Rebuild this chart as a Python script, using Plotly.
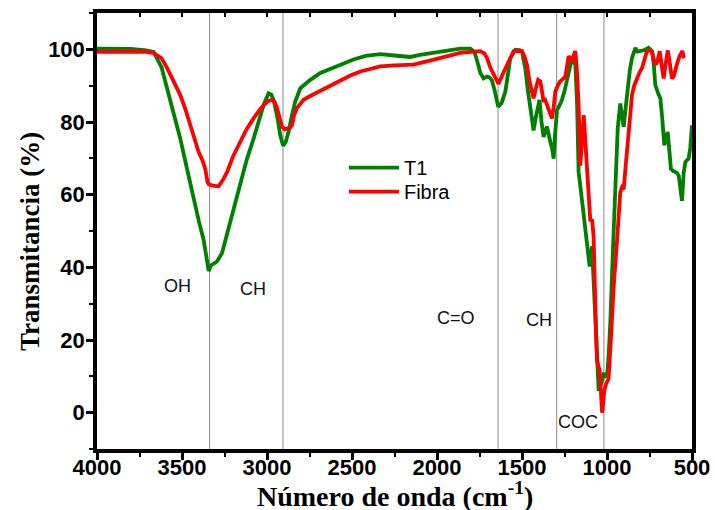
import plotly.graph_objects as go

# FTIR transmittance spectra (wavenumber in cm^-1, transmittance in %)
t1_wavenumber = [4000, 3900, 3800, 3720, 3667, 3620, 3588, 3550, 3510, 3470, 3432, 3400, 3373, 3355, 3343,
                 3330, 3310, 3294, 3265, 3245, 3226, 3190, 3157, 3120, 3079, 3050, 3020, 2991, 2975, 2961,
                 2940, 2922, 2905, 2890, 2873, 2855, 2834, 2804, 2775, 2745, 2686, 2620, 2569, 2491, 2420,
                 2334, 2250, 2157, 2100, 2039, 1950, 1863, 1804, 1780, 1765, 1745, 1726, 1706, 1690, 1676,
                 1660, 1640, 1620, 1598, 1580, 1569, 1539, 1515, 1500, 1481, 1465, 1451, 1440, 1432, 1420,
                 1412, 1397, 1385, 1373, 1353, 1343, 1333, 1322, 1314, 1305, 1294, 1280, 1265, 1250, 1235,
                 1220, 1206, 1196, 1186, 1176, 1167, 1157, 1140, 1118, 1102, 1088, 1078, 1069, 1058, 1049,
                 1040, 1029, 1020, 1010, 1000, 990, 980, 965, 951, 937, 922, 910, 902, 890, 878,
                 865, 853, 833, 820, 804, 780, 755, 740, 735, 725, 716, 700, 686, 675, 663,
                 653, 643, 633, 624, 610, 598, 588, 578, 568, 559, 549, 539, 520, 510, 500]
t1_transmittance = [100.2, 100.2, 100.1, 99.8, 99.3, 95.0, 89.3, 82.5, 75.4, 67.0, 58.8, 52.5, 47.6, 43.0, 39.0,
                    40.5, 41.3, 41.6, 43.9, 47.5, 51.3, 57.5, 63.4, 69.5, 75.4, 80.0, 84.7, 87.9, 87.5, 86.1,
                    81.5, 76.3, 73.5, 74.5, 77.3, 81.5, 85.6, 89.3, 90.5, 91.6, 93.5, 94.8, 95.8, 97.2, 98.2,
                    98.7, 98.3, 97.9, 98.5, 99.0, 99.6, 100.2, 100.2, 99.3, 97.0, 93.5, 92.0, 92.5, 92.2, 91.4,
                    88.5, 84.2, 85.2, 88.4, 94.0, 97.6, 99.9, 99.8, 99.3, 94.9, 88.5, 83.8, 79.0, 77.7, 81.0,
                    82.8, 86.1, 80.0, 75.9, 78.7, 76.0, 74.5, 72.5, 69.9, 77.0, 83.3, 84.5, 86.1, 88.5, 92.0,
                    95.0, 97.6, 96.5, 95.8, 85.0, 66.2, 62.4, 55.0, 44.9, 40.2, 45.8, 35.0, 25.4, 14.0, 6.0,
                    7.0, 8.8, 10.6, 10.5, 9.7, 16.0, 25.4, 45.0, 62.4, 78.2, 85.1, 82.0, 78.7, 84.0, 90.2,
                    94.5, 97.6, 100.4, 99.4, 99.5, 99.8, 100.4, 99.8, 99.5, 96.0, 90.2, 88.0, 86.5, 81.0, 73.6,
                    75.0, 77.3, 72.0, 67.1, 66.5, 66.2, 66.0, 65.2, 62.0, 58.3, 66.0, 69.0, 69.9, 73.0, 79.1]

fibra_wavenumber = [4000, 3900, 3800, 3720, 3667, 3620, 3588, 3550, 3510, 3480, 3451, 3425, 3402, 3380, 3363,
                    3350, 3343, 3320, 3300, 3285, 3260, 3235, 3200, 3157, 3120, 3079, 3040, 3000, 2971, 2955,
                    2941, 2925, 2912, 2895, 2882, 2865, 2853, 2840, 2824, 2785, 2740, 2686, 2620, 2569, 2510,
                    2451, 2390, 2334, 2250, 2138, 2060, 1981, 1920, 1863, 1800, 1745, 1720, 1706, 1686, 1657,
                    1638, 1615, 1588, 1565, 1549, 1525, 1500, 1485, 1471, 1455, 1440, 1432, 1420, 1405, 1392,
                    1383, 1373, 1363, 1353, 1340, 1324, 1314, 1304, 1290, 1275, 1260, 1245, 1235, 1226, 1215,
                    1206, 1196, 1186, 1177, 1167, 1157, 1147, 1137, 1128, 1118, 1108, 1098, 1088, 1079, 1069,
                    1059, 1043, 1036, 1029, 1022, 1016, 1005, 991, 975, 961, 940, 922, 912, 902, 890,
                    878, 865, 853, 840, 824, 810, 794, 780, 765, 750, 735, 722, 710, 700, 690,
                    678, 667, 655, 642, 630, 618, 608, 597, 585, 570, 556, 550, 545]
fibra_transmittance = [99.3, 99.4, 99.5, 99.4, 99.0, 97.5, 94.9, 91.5, 87.4, 83.5, 79.1, 75.5, 71.7, 69.5, 67.1,
                       63.5, 62.9, 62.5, 62.5, 62.3, 64.0, 66.2, 70.5, 74.5, 78.0, 81.0, 83.5, 85.6, 86.1, 85.5,
                       83.8, 81.0, 78.7, 78.0, 78.2, 78.4, 79.1, 82.0, 83.8, 86.1, 87.3, 88.6, 90.2, 91.6, 92.8,
                       93.9, 94.7, 95.3, 95.6, 95.8, 96.7, 97.6, 98.4, 99.0, 99.3, 99.5, 98.8, 97.6, 94.9, 92.0,
                       90.5, 93.0, 95.8, 98.2, 99.5, 99.6, 99.5, 98.0, 95.8, 91.0, 87.5, 86.5, 89.0, 91.6, 91.2,
                       87.5, 85.6, 86.0, 84.7, 82.5, 81.0, 84.0, 88.4, 90.0, 91.2, 91.8, 92.5, 95.5, 98.1, 97.5,
                       96.7, 98.5, 99.5, 94.0, 84.7, 68.0, 75.0, 81.9, 75.0, 66.2, 58.0, 52.7, 53.2, 48.6, 30.0,
                       14.3, 11.5, 6.0, 0.0, 3.0, 6.0, 8.0, 9.2, 22.0, 34.7, 48.0, 60.6, 62.0, 61.5, 68.0,
                       75.4, 82.0, 87.4, 90.0, 92.0, 93.5, 94.9, 97.5, 99.5, 99.8, 99.3, 96.5, 95.8, 97.5, 99.5,
                       95.5, 92.0, 96.0, 99.7, 96.0, 92.0, 92.5, 95.0, 96.5, 98.5, 99.5, 98.0, 97.6]

# Band assignments: reference lines and their labels
band_positions = [3338, 2906, 1641, 1296, 1018]
label_text = ["OH", "CH", "C=O", "CH", "COC"]
label_x = [3528, 3081, 1887, 1398, 1168]
label_y = [35, 34, 26, 25.4, -2.6]

x_ticks = [4000, 3500, 3000, 2500, 2000, 1500, 1000, 500]
y_ticks = [0, 20, 40, 60, 80, 100]
x_range = [4000, 500]
y_range = [-10, 110]

x_title = "Número de onda (cm<sup>-1</sup>)"
y_title = "Transmitancia (%)"

fig = go.Figure()
fig.add_trace(go.Scatter(x=t1_wavenumber, y=t1_transmittance, mode="lines", name="T1",
                         line=dict(color="#008000", width=3.8), legend="legend"))
fig.add_trace(go.Scatter(x=fibra_wavenumber, y=fibra_transmittance, mode="lines", name="Fibra",
                         line=dict(color="#FF0000", width=3.8), legend="legend2"))
# empty trace that carries the top (inward-tick) axis
fig.add_trace(go.Scatter(x=[], y=[], xaxis="x2", showlegend=False, hoverinfo="skip"))

for pos in band_positions:
    fig.add_shape(type="line", xref="x", yref="paper", x0=pos, x1=pos, y0=0, y1=1,
                  line=dict(color="#8c8c8c", width=1), layer="below")

for txt, lx, ly in zip(label_text, label_x, label_y):
    fig.add_annotation(x=lx, y=ly, text=txt, showarrow=False,
                       font=dict(family="Liberation Sans", size=18, color="#111111"))

tick_font = dict(family="Liberation Sans", size=22, color="black", weight="bold")
legend_font = dict(family="Liberation Sans", size=20, color="black")

# Axis titles placed in the margins
fig.add_annotation(xref="paper", yref="paper", x=0.5, y=0, yshift=-45, xanchor="center", yanchor="middle",
                   text=x_title, showarrow=False,
                   font=dict(family="Liberation Serif", size=28, color="black", weight="bold"))
fig.add_annotation(xref="paper", yref="paper", x=0, xshift=-67, y=0.475, xanchor="center", yanchor="middle",
                   text=y_title, textangle=-90, showarrow=False,
                   font=dict(family="Liberation Serif", size=27, color="black", weight="bold"))

legend_common = dict(xanchor="left", yanchor="top", bgcolor="rgba(0,0,0,0)", borderwidth=0,
                     font=legend_font, itemwidth=50)

fig.update_layout(
    width=715, height=510,
    margin=dict(l=97, r=23, t=13, b=61),
    paper_bgcolor="white", plot_bgcolor="white",
    showlegend=True,
    legend=dict(x=0.415, y=0.69, **legend_common),
    legend2=dict(x=0.415, y=0.635, **legend_common),
    xaxis=dict(
        range=x_range, tickvals=x_ticks, ticktext=[str(v) for v in x_ticks],
        showgrid=False, zeroline=False, automargin=False,
        showline=True, linecolor="black", linewidth=3.5, mirror=True,
        ticks="outside", ticklen=7, tickwidth=2.5, tickcolor="black", ticklabelstandoff=-11,
        minor=dict(ticks="outside", ticklen=4, tickwidth=2, dtick=250, tick0=0, tickcolor="black"),
        tickfont=tick_font,
    ),
    xaxis2=dict(
        overlaying="x", side="top", range=x_range, showgrid=False, zeroline=False,
        showline=False, showticklabels=False, automargin=False,
        tickmode="linear", tick0=0, dtick=250, ticks="inside", ticklen=4, tickwidth=2, tickcolor="black",
    ),
    yaxis=dict(
        range=y_range, tickvals=y_ticks,
        showgrid=False, zeroline=False, automargin=False,
        showline=True, linecolor="black", linewidth=3.5, mirror=True,
        ticks="outside", ticklen=7, tickwidth=2.5, tickcolor="black", ticklabelstandoff=-3,
        minor=dict(ticks="outside", ticklen=4, tickwidth=2, dtick=10, tick0=0, tickcolor="black"),
        tickfont=tick_font,
    ),
)

fig.write_html("out.html")
